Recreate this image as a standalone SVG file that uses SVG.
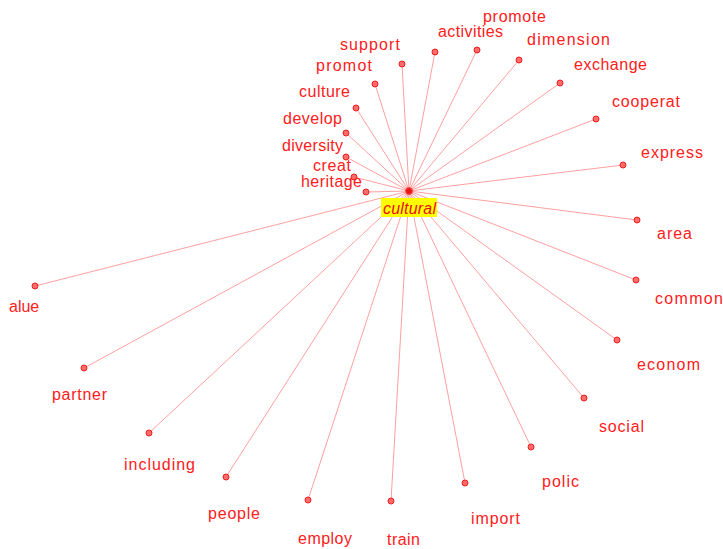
<svg xmlns="http://www.w3.org/2000/svg" width="723" height="549" viewBox="0 0 723 549">
<style>
.e{stroke:#ffa0a0;stroke-width:1;fill:none}
.d{fill:#ff6a6a;stroke:#e82020;stroke-width:1}
.t{font-family:"Liberation Sans",Arial,sans-serif;font-size:16px;fill:#ff2020}
.c{font-family:"Liberation Sans",Arial,sans-serif;font-size:16px;font-style:italic;fill:#e81010}
</style>
<rect width="723" height="549" fill="#ffffff"/>
<g id="connectors">
<line class="e" x1="409" y1="191" x2="477" y2="50"/>
<line class="e" x1="409" y1="191" x2="435" y2="52"/>
<line class="e" x1="409" y1="191" x2="402" y2="64"/>
<line class="e" x1="409" y1="191" x2="519" y2="60"/>
<line class="e" x1="409" y1="191" x2="375" y2="84"/>
<line class="e" x1="409" y1="191" x2="356" y2="108"/>
<line class="e" x1="409" y1="191" x2="346" y2="133"/>
<line class="e" x1="409" y1="191" x2="346" y2="157"/>
<line class="e" x1="409" y1="191" x2="354" y2="177"/>
<line class="e" x1="409" y1="191" x2="366" y2="192"/>
<line class="e" x1="409" y1="191" x2="560" y2="83"/>
<line class="e" x1="409" y1="191" x2="596" y2="119"/>
<line class="e" x1="409" y1="191" x2="623" y2="165"/>
<line class="e" x1="409" y1="191" x2="637" y2="220"/>
<line class="e" x1="409" y1="191" x2="636" y2="280"/>
<line class="e" x1="409" y1="191" x2="617" y2="340"/>
<line class="e" x1="409" y1="191" x2="584" y2="398"/>
<line class="e" x1="409" y1="191" x2="531" y2="447"/>
<line class="e" x1="409" y1="191" x2="465" y2="483"/>
<line class="e" x1="409" y1="191" x2="391" y2="501"/>
<line class="e" x1="409" y1="191" x2="35" y2="286"/>
<line class="e" x1="409" y1="191" x2="84" y2="368"/>
<line class="e" x1="409" y1="191" x2="149" y2="433"/>
<line class="e" x1="409" y1="191" x2="226" y2="477"/>
<line class="e" x1="409" y1="191" x2="308" y2="500"/>
</g>
<g id="n-promote"><circle class="d" cx="477" cy="50" r="3"/><text class="t" x="483" y="22" textLength="63" lengthAdjust="spacing">promote</text></g>
<g id="n-activities"><circle class="d" cx="435" cy="52" r="3"/><text class="t" x="438" y="37" textLength="65" lengthAdjust="spacing">activities</text></g>
<g id="n-support"><circle class="d" cx="402" cy="64" r="3"/><text class="t" x="340" y="50" textLength="60" lengthAdjust="spacing">support</text></g>
<g id="n-dimension"><circle class="d" cx="519" cy="60" r="3"/><text class="t" x="527" y="45" textLength="83" lengthAdjust="spacing">dimension</text></g>
<g id="n-promot"><circle class="d" cx="375" cy="84" r="3"/><text class="t" x="316" y="71" textLength="56" lengthAdjust="spacing">promot</text></g>
<g id="n-culture"><circle class="d" cx="356" cy="108" r="3"/><text class="t" x="299" y="97" textLength="51" lengthAdjust="spacing">culture</text></g>
<g id="n-develop"><circle class="d" cx="346" cy="133" r="3"/><text class="t" x="283" y="124" textLength="59" lengthAdjust="spacing">develop</text></g>
<g id="n-diversity"><circle class="d" cx="346" cy="157" r="3"/><text class="t" x="282" y="151" textLength="61" lengthAdjust="spacing">diversity</text></g>
<g id="n-creat"><circle class="d" cx="354" cy="177" r="3"/><text class="t" x="313" y="171" textLength="38" lengthAdjust="spacing">creat</text></g>
<g id="n-heritage"><circle class="d" cx="366" cy="192" r="3"/><text class="t" x="301" y="187" textLength="61" lengthAdjust="spacing">heritage</text></g>
<g id="n-exchange"><circle class="d" cx="560" cy="83" r="3"/><text class="t" x="574" y="70" textLength="73" lengthAdjust="spacing">exchange</text></g>
<g id="n-cooperat"><circle class="d" cx="596" cy="119" r="3"/><text class="t" x="612" y="107" textLength="68" lengthAdjust="spacing">cooperat</text></g>
<g id="n-express"><circle class="d" cx="623" cy="165" r="3"/><text class="t" x="641" y="158" textLength="62" lengthAdjust="spacing">express</text></g>
<g id="n-area"><circle class="d" cx="637" cy="220" r="3"/><text class="t" x="657" y="239" textLength="35" lengthAdjust="spacing">area</text></g>
<g id="n-common"><circle class="d" cx="636" cy="280" r="3"/><text class="t" x="655" y="304" textLength="68" lengthAdjust="spacing">common</text></g>
<g id="n-econom"><circle class="d" cx="617" cy="340" r="3"/><text class="t" x="637" y="370" textLength="63" lengthAdjust="spacing">econom</text></g>
<g id="n-social"><circle class="d" cx="584" cy="398" r="3"/><text class="t" x="599" y="432" textLength="45" lengthAdjust="spacing">social</text></g>
<g id="n-polic"><circle class="d" cx="531" cy="447" r="3"/><text class="t" x="542" y="487" textLength="37" lengthAdjust="spacing">polic</text></g>
<g id="n-import"><circle class="d" cx="465" cy="483" r="3"/><text class="t" x="471" y="524" textLength="49" lengthAdjust="spacing">import</text></g>
<g id="n-train"><circle class="d" cx="391" cy="501" r="3"/><text class="t" x="387" y="545" textLength="33" lengthAdjust="spacing">train</text></g>
<g id="n-value"><circle class="d" cx="35" cy="286" r="3"/><text class="t" x="9" y="312">alue</text></g>
<g id="n-partner"><circle class="d" cx="84" cy="368" r="3"/><text class="t" x="52" y="400" textLength="55" lengthAdjust="spacing">partner</text></g>
<g id="n-including"><circle class="d" cx="149" cy="433" r="3"/><text class="t" x="124" y="470" textLength="71" lengthAdjust="spacing">including</text></g>
<g id="n-people"><circle class="d" cx="226" cy="477" r="3"/><text class="t" x="208" y="519" textLength="52" lengthAdjust="spacing">people</text></g>
<g id="n-employ"><circle class="d" cx="308" cy="500" r="3"/><text class="t" x="298" y="544" textLength="54" lengthAdjust="spacing">employ</text></g>
<g id="n-cultural">
<circle cx="409" cy="191" r="3.5" fill="#e81818" stroke="#ff5050" stroke-width="1"/>
<rect x="381" y="198" width="56" height="19" fill="#ffff00"/>
<text class="c" x="383" y="214" textLength="53" lengthAdjust="spacing">cultural</text>
</g>
</svg>
